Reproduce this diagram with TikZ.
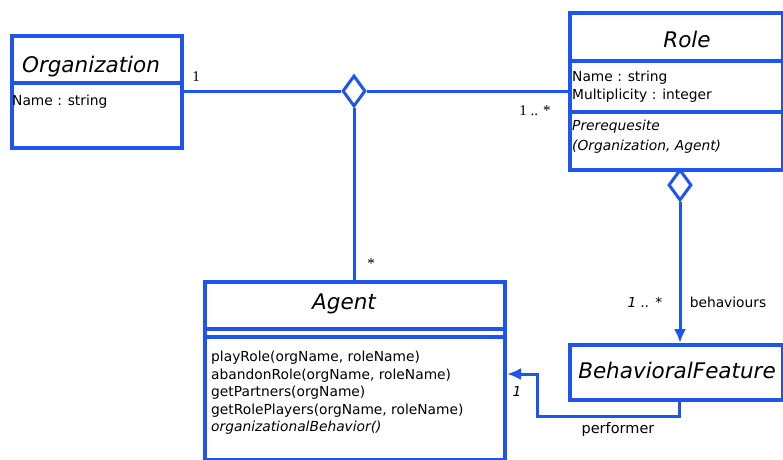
\documentclass[tikz,border=0pt]{standalone}
\usepackage{fontspec}
\setmainfont{DejaVu Sans}
\newfontfamily\serifnum{Liberation Serif}
\usetikzlibrary{shapes.geometric,arrows.meta}
\definecolor{umlblue}{RGB}{30,85,240}
\begin{document}
\begin{tikzpicture}[x=1pt,y=-1pt,
  box/.style={draw=umlblue,line width=4pt,inner sep=0pt,anchor=north west},
  divider/.style={draw=umlblue,line width=4pt},
  conn/.style={draw=umlblue,line width=3pt},
  tip/.style={-{Latex[length=14pt,width=12pt]}},
  agg/.style={diamond,draw=umlblue,line width=3pt,fill=white,inner sep=0pt,minimum width=23pt,minimum height=31pt},
  ttl/.style={font=\fontsize{21.5}{24}\selectfont\itshape,inner sep=0pt,anchor=base},
  attr/.style={font=\fontsize{13.8}{17.5}\selectfont,anchor=north west,align=left,inner sep=0pt},
  mult/.style={font=\serifnum\fontsize{15}{17}\selectfont,inner sep=0pt,anchor=base},
  lbl/.style={font=\fontsize{13.8}{16}\selectfont,inner sep=0pt,anchor=base}]
\clip (0,0) rectangle (783,459);
\fill[white] (0,0) rectangle (783,459);
% Organization
\node[box,minimum width=170pt,minimum height=112pt] (org) at (10,34) {};
\draw[divider] (10,83) -- (180,83);
\node[ttl] (orgt) at (91,72) {Organization};
\node[attr] (orga) at (12,95) {Name : string};
% Role
\node[box,minimum width=213pt,minimum height=157pt] (role) at (568,11) {};
\draw[divider] (568,61) -- (781,61);
\draw[divider] (568,112) -- (781,112);
\node[ttl] (rolet) at (687,47) {Role};
\node[attr] (rolea) at (572,71) {Name : string\\Multiplicity : integer};
\node[attr,font=\fontsize{13.8}{19.5}\selectfont\itshape] (rolem) at (572,120) {Prerequesite\\(Organization, Agent)};
% Agent
\node[box,minimum width=300pt,minimum height=178pt] (agent) at (203,280) {};
\draw[divider] (203,329) -- (503,329);
\draw[divider] (203,337) -- (503,337);
\node[ttl] (agentt) at (344,309) {Agent};
\node[attr] (agentm) at (211,351) {playRole(orgName, roleName)\\abandonRole(orgName, roleName)\\getPartners(orgName)\\getRolePlayers(orgName, roleName)\\\textit{organizationalBehavior()}};
% BehavioralFeature
\node[box,minimum width=213pt,minimum height=55pt] (bf) at (568,343) {};
\node[ttl] (bft) at (677,378) {BehavioralFeature};
% aggregation diamonds
\node[agg] (d1) at (354,91) {};
\node[agg] (d2) at (680,185) {};
% connectors
\draw[conn] (org.east |- d1.west) -- (d1.west);
\draw[conn] (d1.east) -- (role.west |- d1.east);
\draw[conn] (d1.south) -- (agent.north -| d1.south);
\draw[conn,tip] (d2.south) -- (bf.north -| d2.south);
\coordinate (pa) at (679,416);
\coordinate (pb) at (537,416);
\coordinate (pc) at (537,374);
\draw[conn,tip] (bf.south -| pa) -- (pa) -- (pb) -- (pc) -- (agent.east |- pc);
% multiplicities and role names
\node[mult] (m1) at (196,81) {1};
\node[mult] (m2) at (535,115) {1 .. *};
\node[mult] (m3) at (371,268) {*};
\node[lbl,font=\fontsize{13.8}{16}\selectfont\itshape] (m4) at (645,307) {1 .. *};
\node[lbl] (m5) at (728,307) {behaviours};
\node[lbl,font=\fontsize{13.8}{16}\selectfont\itshape] (m6) at (517,396) {1};
\node[lbl,font=\fontsize{14.5}{16}\selectfont] (m7) at (618,433) {performer};
\end{tikzpicture}
\end{document}
